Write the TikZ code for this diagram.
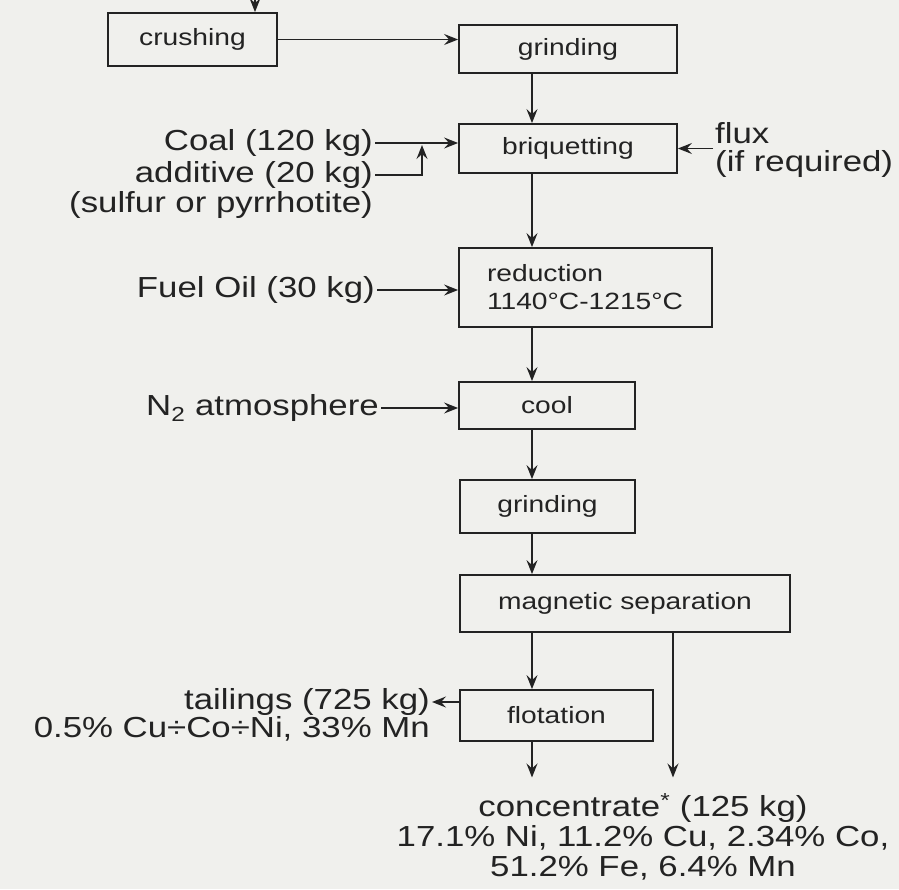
\documentclass[tikz,border=0pt]{standalone}
\usepackage{fontspec}
\setmainfont{Liberation Sans}[FakeStretch=1.2]
\usetikzlibrary{arrows.meta}
\definecolor{paper}{RGB}{240,240,237}
\definecolor{ink}{RGB}{35,35,35}

\begin{document}
\begin{tikzpicture}[x=1pt, y=-1pt,
    >={Stealth[length=14pt,width=11pt,inset=5pt]},
    proc/.style={draw=ink, line width=1.8pt, text=ink, inner sep=0pt,
      font=\fontsize{23.5}{28}\selectfont},
    lbl/.style={text=ink, inner sep=2pt, font=\fontsize{29}{30}\selectfont},
    flow/.style={->, draw=ink, line width=1.5pt}]
  \useasboundingbox[fill=paper] (0,0) rectangle (899,889);

  % Process boxes
  \node[proc, minimum width=169pt, minimum height=53pt] (crush) at (192.5,39.5) {crushing};
  \node[proc, minimum width=218pt, minimum height=48pt] (grind1) at (568,49) {grinding};
  \node[proc, minimum width=218pt, minimum height=49pt] (briq) at (568,148.5) {briquetting};
  \node[proc, text width=197pt, inner xsep=28pt, align=left, minimum height=79pt] (reduc) at (585.5,287.5)
    {reduction\\1140°C-1215°C};
  \node[proc, minimum width=176pt, minimum height=47pt] (cool) at (547,405.5) {cool};
  \node[proc, minimum width=175pt, minimum height=53pt] (grind2) at (547.5,506.5) {grinding};
  \node[proc, minimum width=330pt, minimum height=57pt] (magsep) at (625,603.5) {magnetic separation};
  \node[proc, minimum width=193pt, minimum height=51pt] (flot) at (556.5,715.5) {flotation};

  % Feeds and products
  \node[lbl, anchor=east] (coal) at (375,143) {Coal (120 kg)};
  \node[lbl, anchor=east] (addit) at (375,175) {additive (20 kg)};
  \node[lbl, anchor=east] (sulfur) at (375,205) {(sulfur or pyrrhotite)};
  \node[lbl, anchor=west] (flux) at (713,133) {flux};
  \node[lbl, anchor=west] (ifreq) at (713,164) {(if required)};
  \node[lbl, anchor=east] (fuel) at (377,290) {Fuel Oil (30 kg)};
  \node[lbl, anchor=east] (ntwo) at (381,408) {N\textsubscript{2} atmosphere};
  \node[lbl, anchor=east] (tail) at (432,702) {tailings (725 kg)};
  \node[lbl, anchor=east] (tailmix) at (432,729) {0.5\% Cu÷Co÷Ni, 33\% Mn};
  \node[lbl, align=center, inner ysep=16pt] (conc) at (643,837)
    {concentrate\textsuperscript{*} (125 kg)\\17.1\% Ni, 11.2\% Cu, 2.34\% Co,\\51.2\% Fe, 6.4\% Mn};

  % Helper coordinates
  \coordinate (feed) at (255,-20);
  \coordinate (spine) at (532,0);
  \coordinate (bypass) at (673,0);
  \coordinate (merge) at (422,145);

  % Main line
  \draw[flow] (feed) -- (feed |- crush.north);
  \draw[flow] (crush.east) -- (crush.east -| grind1.west);
  \draw[flow] (grind1.south -| spine) -- (briq.north -| spine);
  \draw[flow] (briq.south -| spine) -- (reduc.north -| spine);
  \draw[flow] (reduc.south -| spine) -- (cool.north -| spine);
  \draw[flow] (cool.south -| spine) -- (grind2.north -| spine);
  \draw[flow] (grind2.south -| spine) -- (magsep.north -| spine);
  \draw[flow] (magsep.south -| spine) -- (flot.north -| spine);
  \draw[flow] (flot.south -| spine) -- (conc.north -| spine);
  \draw[flow] (magsep.south -| bypass) -- (conc.north -| bypass);

  % Side streams
  \draw[flow] (coal.east) -- (coal.east -| briq.west);
  \draw[flow] (addit.east) -| (merge);
  \draw[flow] (flux.west |- briq.east) -- (briq.east);
  \draw[flow] (fuel.east) -- (fuel.east -| reduc.west);
  \draw[flow] (ntwo.east) -- (ntwo.east -| cool.west);
  \draw[flow] (flot.west |- tail.east) -- (tail.east);
\end{tikzpicture}
\end{document}
